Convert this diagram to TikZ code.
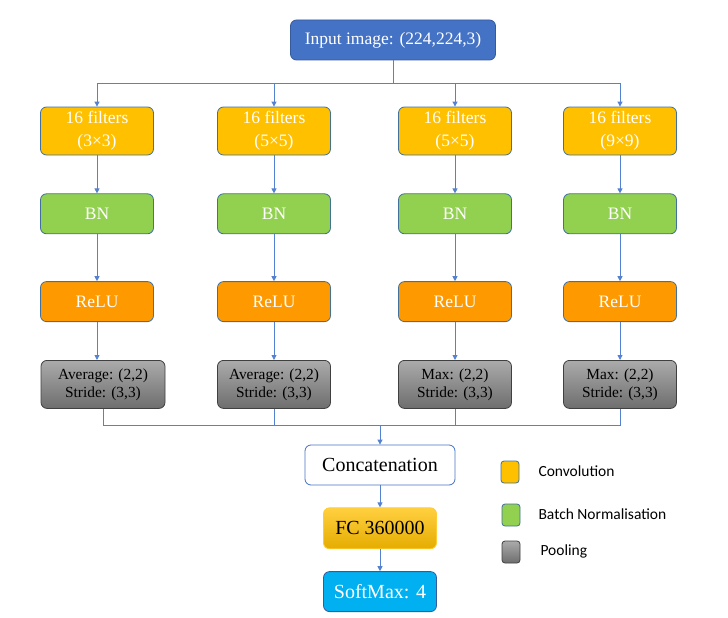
\documentclass[tikz,border=0pt]{standalone}
\usepackage{fontspec}
\setmainfont{Liberation Serif}
\newfontfamily\legendfont{Carlito}
\usetikzlibrary{arrows.meta, positioning, calc}

\definecolor{inputblue}{HTML}{4472C4}
\definecolor{edgeblue}{HTML}{41719C}
\definecolor{linkblue}{HTML}{5582D0}
\definecolor{convyellow}{HTML}{FFC000}
\definecolor{bngreen}{HTML}{92D050}
\definecolor{reluorange}{HTML}{FF9900}
\definecolor{softblue}{HTML}{00B0F0}

\begin{document}
\begin{tikzpicture}[x=1pt, y=-1pt, node distance=38pt,
    box/.style={draw=edgeblue, line width=0.8pt, rounded corners=6pt, minimum width=113pt, minimum height=40pt, align=center, text=white, font=\fontsize{17.5}{23}\selectfont},
    conv/.style={box, fill=convyellow, minimum height=48pt},
    bn/.style={box, fill=bngreen},
    relu/.style={box, fill=reluorange},
    pool/.style={box, draw=black!75, top color=black!33, bottom color=black!57, text=black, minimum height=48pt, font=\fontsize{15.4}{18}\selectfont},
    big/.style={box, font=\fontsize{20}{24}\selectfont},
    key/.style={draw=edgeblue, line width=0.8pt, rounded corners=3pt, minimum width=18pt, minimum height=22pt, inner sep=0pt},
    keytext/.style={anchor=west, font=\legendfont\fontsize{15.5}{18}\selectfont},
    arr/.style={draw=linkblue, line width=0.9pt, -{Triangle[length=5pt,width=5pt]}},
    link/.style={draw=linkblue, line width=0.9pt}]
    \useasboundingbox (0,0) rectangle (728,618);

    % Input
    \node (in) [box, fill=inputblue, draw=inputblue!80!black, minimum width=205pt] at (393,40) {Input image: (224,224,3)};

    % Four branches
    \node (f1) [conv] at (97,131) {16 filters\\(3×3)};
    \node (f2) [conv] at (274,131) {16 filters\\(5×5)};
    \node (f3) [conv] at (455,131) {16 filters\\(5×5)};
    \node (f4) [conv] at (620,131) {16 filters\\(9×9)};

    \foreach \i in {1,...,4} {
        \node (bn\i) [bn, below=of f\i] {BN};
        \node (relu\i) [relu, below=47pt of bn\i] {ReLU};
    }

    \node (pool1) [pool, below=of relu1, xshift=6pt, minimum width=124pt] {Average: (2,2)\\Stride: (3,3)};
    \node (pool2) [pool, below=of relu2] {Average: (2,2)\\Stride: (3,3)};
    \node (pool3) [pool, below=of relu3] {Max: (2,2)\\Stride: (3,3)};
    \node (pool4) [pool, below=of relu4] {Max: (2,2)\\Stride: (3,3)};

    % Head
    \node (cat) [big, fill=white, draw=inputblue, text=black, minimum width=150pt] at (380,465) {Concatenation};
    \node (fc) [big, below=22pt of cat, draw=convyellow!80, top color=convyellow!75, bottom color=convyellow!90!black, text=black, minimum height=41pt] {FC 360000};
    \node (soft) [big, below=22pt of fc, fill=softblue, draw=inputblue!80!black] {SoftMax: 4};

    % Legend
    \node (kconv) [key, fill=convyellow] at (510,472) {};
    \node (kbn) [key, fill=bngreen] at (511,515) {};
    \node (kpool) [key, draw=black!75, top color=black!33, bottom color=black!57] at (511,552) {};
    \node (tconv) [keytext] at (535,471) {Convolution};
    \node (tbn) [keytext] at (535,514) {Batch Normalisation};
    \node (tpool) [keytext] at (537,551) {Pooling};

    % Connectors
    \coordinate (split) at (393,83);
    \coordinate (join) at (380,425);
    \draw[link] (in) -- (split);
    \foreach \i in {1,...,4} {
        \draw[arr] (split) -| (f\i);
        \draw[arr] (f\i) -- (bn\i);
        \draw[arr] (bn\i) -- (relu\i);
        \draw[arr] (relu\i.south) -- (relu\i.south |- pool\i.north);
        \draw[link] (pool\i.south) |- (join);
    }
    \draw[arr] (join) -- (cat);
    \draw[arr] (cat) -- (fc);
    \draw[arr] (fc) -- (soft);
\end{tikzpicture}
\end{document}
